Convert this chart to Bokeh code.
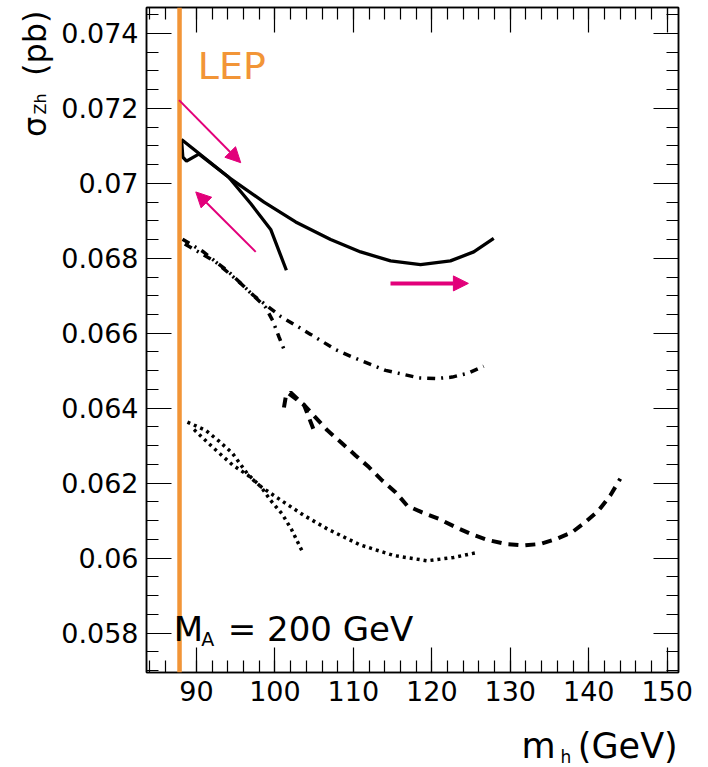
import numpy as np
from bokeh.plotting import figure
from bokeh.models import (Range1d, LinearAxis, SingleIntervalTicker, CustomJSTickFormatter,
                          Label, Arrow, NormalHead, Span, Title)
from bokeh.embed import file_html
from bokeh.resources import INLINE

# ---------------- data ----------------
solid_long_x = [88.09, 90.29, 94.11, 98.61, 102.64, 107.10, 110.92, 114.74, 118.56, 122.37, 125.34, 127.89]
solid_long_y = [0.07117, 0.07080, 0.07016, 0.06950, 0.06897, 0.06850, 0.06817, 0.06793, 0.06783, 0.06793, 0.06817, 0.06853]
solid_short_x = [88.09, 88.26, 88.73, 90.29, 94.11, 96.91, 99.46, 101.46]
solid_short_y = [0.07117, 0.07070, 0.07059, 0.07078, 0.07016, 0.06946, 0.06877, 0.06768]

dashdot_long_x = [88.22, 90.76, 94.15, 97.26, 100.73, 104.55, 107.76, 110.06, 114.10, 118.34, 120.47, 122.59, 124.70, 126.61]
dashdot_long_y = [0.06851, 0.06819, 0.06763, 0.06701, 0.06645, 0.06597, 0.06556, 0.06535, 0.06501, 0.06481, 0.06479, 0.06483, 0.06494, 0.06512]
dashdot_short_x = [88.51, 92.46, 95.64, 98.82, 99.71, 100.52, 101.37]
dashdot_short_y = [0.06838, 0.06790, 0.06733, 0.06669, 0.06634, 0.06590, 0.06546]

dashed_short_x = [101.15, 101.37, 102.00, 103.70, 104.97]
dashed_short_y = [0.06402, 0.06429, 0.06442, 0.06409, 0.06341]
dashed_long_x = [101.79, 103.70, 106.68, 108.37, 110.28, 111.97, 113.68, 115.37, 116.86, 118.77, 120.88, 123.01,
                 124.92, 127.05, 129.38, 131.71, 133.83, 135.96, 137.87, 139.56, 141.25, 142.74, 144.02]
dashed_long_y = [0.06439, 0.06409, 0.06341, 0.06310, 0.06274, 0.06243, 0.06207, 0.06176, 0.06140, 0.06122, 0.06105, 0.06083,
                 0.06065, 0.06049, 0.06038, 0.06034, 0.06038, 0.06052, 0.06069, 0.06096, 0.06127, 0.06167, 0.06212]

dotted_long_x = [88.85, 91.18, 92.88, 94.58, 96.49, 98.19, 100.95, 103.70, 106.68, 110.79, 115.16, 119.41, 122.79, 125.98]
dotted_long_y = [0.06363, 0.06341, 0.06312, 0.06280, 0.06225, 0.06191, 0.06152, 0.06114, 0.06078, 0.06036, 0.06007, 0.05993, 0.06002, 0.06016]
dotted_short_x = [89.69, 92.11, 94.58, 96.57, 98.19, 99.46, 100.95, 102.13, 103.62]
dotted_short_y = [0.06343, 0.06295, 0.06249, 0.06221, 0.06191, 0.06154, 0.06117, 0.06076, 0.06012]

arrow_x0 = [87.78, 97.55, 114.73]
arrow_y0 = [0.07222, 0.06817, 0.06733]
arrow_x1 = [95.64, 89.91, 124.66]
arrow_y1 = [0.07055, 0.06977, 0.06733]
arrow_w = [2, 2, 4]

lep_mass = 87.84
x_range = (83.63, 151.44)
y_range = (0.05695, 0.07469)

# ---------------- styling ----------------
FONT = "DejaVu Sans"
MAG = "#e2007a"
ORANGE = "#f29537"
NB = "\u00a0"

p = figure(width=708, height=767, output_backend="svg", toolbar_location=None,
           x_range=Range1d(*x_range), y_range=Range1d(*y_range),
           min_border_left=146, min_border_right=30, min_border_top=7, min_border_bottom=95,
           x_axis_type=None, y_axis_type=None)
p.grid.visible = False
p.outline_line_color = "black"
p.outline_line_width = 1.5
p.background_fill_color = "white"
p.border_fill_color = "white"

xt = SingleIntervalTicker(interval=10, num_minor_ticks=5)
yt = SingleIntervalTicker(interval=0.002, num_minor_ticks=4)
fmt = CustomJSTickFormatter(code="return parseFloat(tick.toFixed(4)).toString();")


def make_axis(ticker, show_labels):
    ax = LinearAxis(ticker=ticker, formatter=fmt)
    ax.major_tick_in = 25
    ax.major_tick_out = 0
    ax.minor_tick_in = 12
    ax.minor_tick_out = 0
    ax.axis_line_color = "black"
    ax.axis_line_width = 1.5
    ax.major_tick_line_color = "black"
    ax.minor_tick_line_color = "black"
    ax.major_tick_line_width = 1.2
    ax.minor_tick_line_width = 1.2
    if show_labels:
        ax.major_label_text_font = FONT
        ax.major_label_text_font_size = "27px"
        ax.major_label_text_color = "black"
        ax.major_label_standoff = 8
    else:
        ax.major_label_text_font_size = "1px"
        ax.major_label_text_color = None
        ax.major_label_standoff = 0
    return ax


p.add_layout(make_axis(xt, True), "below")
p.add_layout(make_axis(yt, True), "left")
p.add_layout(make_axis(xt, False), "above")
p.add_layout(make_axis(yt, False), "right")

# curves
p.line(solid_long_x, solid_long_y, line_color="black", line_width=3.3)
p.line(solid_short_x, solid_short_y, line_color="black", line_width=3.3)
p.line(dashdot_long_x, dashdot_long_y, line_color="black", line_width=3.5, line_dash="8 6 2 6")
p.line(dashdot_short_x, dashdot_short_y, line_color="black", line_width=3.5, line_dash="8 6 2 6")
p.line(dashed_long_x, dashed_long_y, line_color="black", line_width=4, line_dash="10 7")
p.line(dashed_short_x, dashed_short_y, line_color="black", line_width=4, line_dash="10 7")
p.line(dotted_long_x, dotted_long_y, line_color="black", line_width=3.5, line_dash="3 4")
p.line(dotted_short_x, dotted_short_y, line_color="black", line_width=3.5, line_dash="3 4")

# LEP line
p.add_layout(Span(location=lep_mass, dimension="height", line_color=ORANGE, line_width=4.5))

# arrows
for i in range(len(arrow_x0)):
    p.add_layout(Arrow(end=NormalHead(size=15, fill_color=MAG, line_color=MAG, line_width=1),
                       x_start=arrow_x0[i], y_start=arrow_y0[i], x_end=arrow_x1[i], y_end=arrow_y1[i],
                       line_color=MAG, line_width=arrow_w[i]))

# texts inside the frame
p.add_layout(Label(x=90.17, y=0.07313, text="LEP", text_font=FONT, text_font_size="38px",
                   text_color=ORANGE, text_baseline="alphabetic"))
p.add_layout(Label(x=87.11, y=0.05811, text="M", text_font=FONT, text_font_size="34px",
                   text_color="black", text_baseline="alphabetic"))
p.add_layout(Label(x=90.60, y=0.05784, text="A", text_font=FONT, text_font_size="19px",
                   text_color="black", text_baseline="alphabetic"))
p.add_layout(Label(x=93.98, y=0.05811, text="= 200 GeV", text_font=FONT, text_font_size="34px",
                   text_color="black", text_baseline="alphabetic"))

# y-axis title (rotated), aligned to the top of the frame
p.add_layout(Title(text="σ" + NB * 4 + "(pb)", align="right", offset=3, standoff=10,
                   text_font=FONT, text_font_size="32px", text_font_style="normal",
                   text_color="black"), "left")


# axis-title pieces in canvas pixel units (y from the top), placed in side panels
def canvas_label(side, **kw):
    lab = Label(x_units="canvas", y_units="canvas", text_font=FONT, text_color="black",
                text_baseline="alphabetic", **kw)
    p.add_layout(lab, side)


canvas_label("below", x=521, y=745, text="m" + NB * 2 + "(GeV)", text_font_size="35px")
canvas_label("below", x=560, y=756, text="h", text_font_size="17px")
canvas_label("right", x=40, y=114, text="Zh", text_font_size="16px", angle=np.pi / 2)

open("out.html", "w").write(file_html(p, INLINE))
